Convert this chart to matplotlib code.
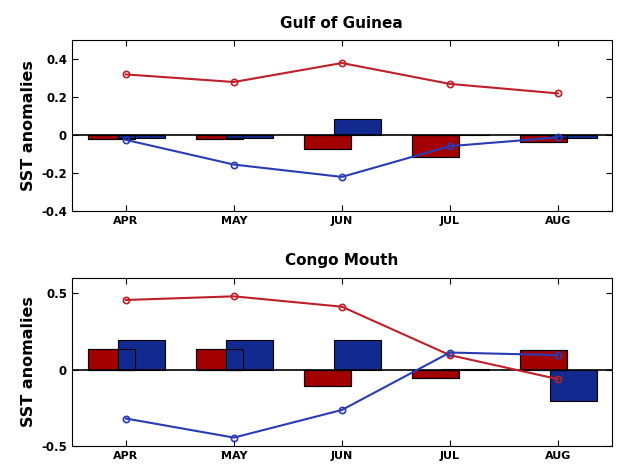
import matplotlib.pyplot as plt
import numpy as np

months = ["APR", "MAY", "JUN", "JUL", "AUG"]

# Gulf of Guinea
gog_red_line = [0.32, 0.28, 0.38, 0.27, 0.22]
gog_blue_line = [-0.025, -0.155, -0.22, -0.058, -0.012]
gog_red_bars = [-0.018, -0.018, -0.073, -0.115, -0.035]
gog_blue_bars = [-0.013, -0.017, 0.085, 0.0, -0.013]

# Congo Mouth
cm_red_line = [0.456, 0.48, 0.412, 0.095, -0.062]
cm_blue_line = [-0.32, -0.445, -0.264, 0.112, 0.095]
cm_red_bars = [0.132, 0.132, -0.104, -0.057, 0.126]
cm_blue_bars = [0.192, 0.192, 0.192, 0.007, -0.203]

RED_BAR = "#a30000"
BLUE_BAR = "#12298f"
RED_LINE = "#bf1f28"
BLUE_LINE = "#2a3cb4"

x = np.arange(1, len(months) + 1)
fig = plt.figure(figsize=(6.25, 4.68), dpi=100)


def panel(ax, title, red_line, blue_line, red_bars, blue_bars, ylim, yticks):
    w = 0.43
    ax.bar(x - 0.135, red_bars, w, color=RED_BAR, edgecolor="black", linewidth=0.8, zorder=2)
    ax.bar(x + 0.145, blue_bars, w, color=BLUE_BAR, edgecolor="black", linewidth=0.8, zorder=3)
    # outline of red bars shows through the blue ones
    ax.bar(x - 0.135, red_bars, w, facecolor="none", edgecolor="black", linewidth=0.8, zorder=4)
    ax.axhline(0, color="black", linewidth=1.2, zorder=5)
    ax.plot(x, red_line, color=RED_LINE, lw=1.5, marker="o", ms=4.5, mfc="none", mew=1.2, zorder=6)
    ax.plot(x, blue_line, color=BLUE_LINE, lw=1.5, marker="o", ms=4.5, mfc="none", mew=1.2, zorder=6)
    ax.set_xlim(0.5, 5.5)
    ax.set_ylim(*ylim)
    ax.set_xticks(x)
    ax.set_xticklabels(months, fontsize=8, fontweight="bold")
    ax.set_yticks(yticks)
    ax.set_yticklabels([("%g" % t) for t in yticks], fontsize=8.5, fontweight="bold")
    ax.tick_params(direction="in", top=True, right=True, length=4, width=0.8)
    ax.set_ylabel("SST anomalies", fontsize=11.5, fontweight="bold")
    ax.set_title(title, fontsize=11, fontweight="bold", pad=9)
    for s in ax.spines.values():
        s.set_linewidth(0.8)


ax1 = fig.add_axes([0.115, 0.549, 0.864, 0.365])
panel(ax1, "Gulf of Guinea", gog_red_line, gog_blue_line, gog_red_bars, gog_blue_bars,
      (-0.4, 0.5), [-0.4, -0.2, 0, 0.2, 0.4])

ax2 = fig.add_axes([0.115, 0.047, 0.864, 0.359])
panel(ax2, "Congo Mouth", cm_red_line, cm_blue_line, cm_red_bars, cm_blue_bars,
      (-0.5, 0.6), [-0.5, 0, 0.5])

fig.savefig("out.png", dpi=100)
